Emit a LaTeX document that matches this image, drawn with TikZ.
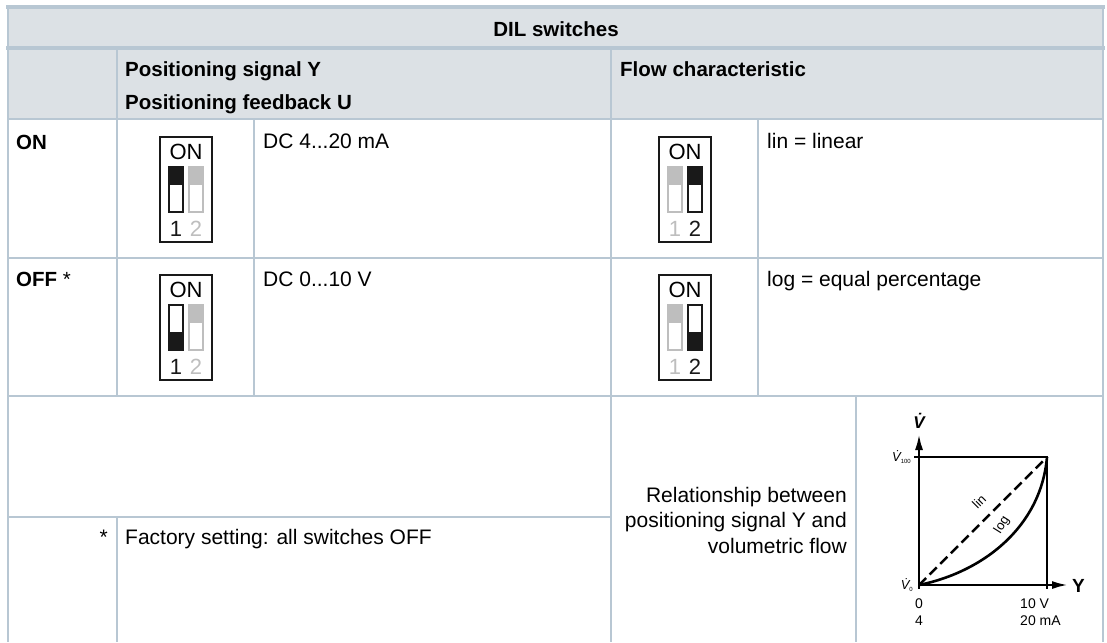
\documentclass[tikz,border=0pt]{standalone}
\usepackage{fontspec}
\setmainfont{Liberation Sans}
\usetikzlibrary{positioning,arrows.meta}
\definecolor{tblline}{RGB}{184,199,211}
\definecolor{hdrbg}{RGB}{220,225,229}
\definecolor{swgray}{RGB}{190,190,190}
\definecolor{swblack}{RGB}{25,25,25}

\begin{document}
\begin{tikzpicture}[x=1pt,y=-1pt,
    grid/.style={draw=tblline, line width=2pt},
    txt/.style={font=\fontsize{21}{25.5}\selectfont, inner sep=0pt},
    hd/.style={inner sep=0pt, font=\fontsize{20.5}{25.5}\selectfont\bfseries},
    small/.style={font=\fontsize{14}{17}\selectfont, inner sep=0pt},
    axis/.style={line width=2.4pt, -{Latex[length=16pt,width=8pt]}},
    pics/dilsw/.style n args={4}{code={
        \draw[swblack, line width=2.2pt] (0,0) rectangle (52,105);
        \node[font=\fontsize{22}{22}\selectfont, inner sep=0pt] (-on) at (26,15) {ON};
        \fill[#1] (9,#2) rectangle ++(14,18);
        \draw[#1, line width=2pt] (9,30) rectangle (23,75);
        \fill[#3] (29,#4) rectangle ++(14,18);
        \draw[#3, line width=2pt] (29,30) rectangle (43,75);
        \node[font=\fontsize{22}{22}\selectfont, inner sep=0pt, text=#1] (-one) at (16,92) {1};
        \node[font=\fontsize{22}{22}\selectfont, inner sep=0pt, text=#3] (-two) at (36,92) {2};
    }}]
    \useasboundingbox (0,0) rectangle (1107,642);
    \fill[white] (0,0) rectangle (1107,642);
    \fill[hdrbg] (8,7) rectangle (1103,119);
    \foreach \ya/\xa/\xb in {48/8/1103, 119/8/1103, 257.5/8/1103, 396/8/1103, 517/8/611}
        \draw[grid] (\xa,\ya) -- (\xb,\ya);
    \foreach \xa/\ya/\yb in {117/48/396, 254/119/396, 611/48/642, 758/119/396, 117/517/642, 856/396/642}
        \draw[grid] (\xa,\ya) -- (\xa,\yb);
    \draw[grid, line width=4pt] (6,48) -- (1105,48);
    \draw[grid, line width=4pt] (6,7) -- (1105,7);
    \draw[grid] (8,7) -- (8,642);
    \draw[grid] (1103,7) -- (1103,642);

    \node[hd, anchor=base] (dil) at (556,36.5) {DIL switches};
    \node[hd, anchor=base west] (psig) at (125,77) {Positioning signal Y};
    \node[hd, anchor=base west] (pfb) at (125,109) {Positioning feedback U};
    \node[hd, anchor=base west] (flow) at (620,77) {Flow characteristic};
    \node[hd, anchor=base west] (on) at (16,149) {ON};
    \node[hd, anchor=base west] (off) at (16,286) {OFF \mdseries*};
    \node[txt, anchor=base west] (dc420) at (263,148) {DC 4...20 mA};
    \node[txt, anchor=base west] (dc010) at (263,286) {DC 0...10 V};
    \node[txt, anchor=base west] (linear) at (767,148) {lin = linear};
    \node[txt, anchor=base west] (eqperc) at (767,286) {log = equal percentage};
    \node[txt, anchor=base east] (star) at (108,544) {*};
    \node[txt, anchor=base west] (factory) at (125,544) {Factory setting: all switches OFF};
    \node[txt, align=right, anchor=east] (rel) at (847,520) {Relationship between\\positioning signal Y and\\volumetric flow};

    \pic (sw1) at (160,137) {dilsw={swblack}{30}{swgray}{30}};
    \pic (sw2) at (160,275) {dilsw={swblack}{57}{swgray}{30}};
    \pic (sw3) at (659,137) {dilsw={swgray}{30}{swblack}{30}};
    \pic (sw4) at (659,275) {dilsw={swgray}{30}{swblack}{57}};

    \coordinate (o) at (919,585);
    \coordinate (p100) at (1047,457);
    \coordinate (vtip) at (919,434);
    \coordinate (ytip) at (1068,585);
    \draw[line width=1.2pt] (914,457) -- (p100) -- (1047,589);
    \draw[line width=1.2pt] (o) -- (919,589);
    \draw[axis] (o) -- (vtip);
    \draw[axis] (o) -- (ytip);
    \draw[line width=2.5pt, dash pattern=on 10pt off 5pt] (o) -- (p100);
    \draw[line width=2.6pt] (o) .. controls (983,572) and (1041,527) .. (p100);
    \node[font=\fontsize{13}{13}\selectfont, inner sep=0pt, rotate=45] (linlbl) at (979,502) {lin};
    \node[font=\fontsize{13}{13}\selectfont, inner sep=0pt, rotate=58] (loglbl) at (1002,525) {log};
    \node[font=\fontsize{17}{17}\selectfont\bfseries\itshape, inner sep=0pt, anchor=base] (vdot) at (919,428) {\.V};
    \node[font=\fontsize{13}{13}\selectfont\itshape, inner sep=0pt, anchor=east] (v100) at (911,457) {\.V\raisebox{-2pt}{\upshape\fontsize{6}{6}\selectfont 100}};
    \node[font=\fontsize{13}{13}\selectfont\itshape, inner sep=0pt, anchor=east] (v0) at (913,585) {\.V\raisebox{-2pt}{\upshape\fontsize{6}{6}\selectfont 0}};
    \node[font=\fontsize{19}{19}\selectfont\bfseries, inner sep=0pt, anchor=west] (ylbl) at (1072,586) {Y};
    \node[small, anchor=base] (x0) at (919,608) {0};
    \node[small, anchor=base] (x4) at (919,625) {4};
    \node[small, anchor=base west] (x10) at (1020,608) {10 V};
    \node[small, anchor=base west] (x20) at (1020,625) {20 mA};
\end{tikzpicture}
\end{document}
